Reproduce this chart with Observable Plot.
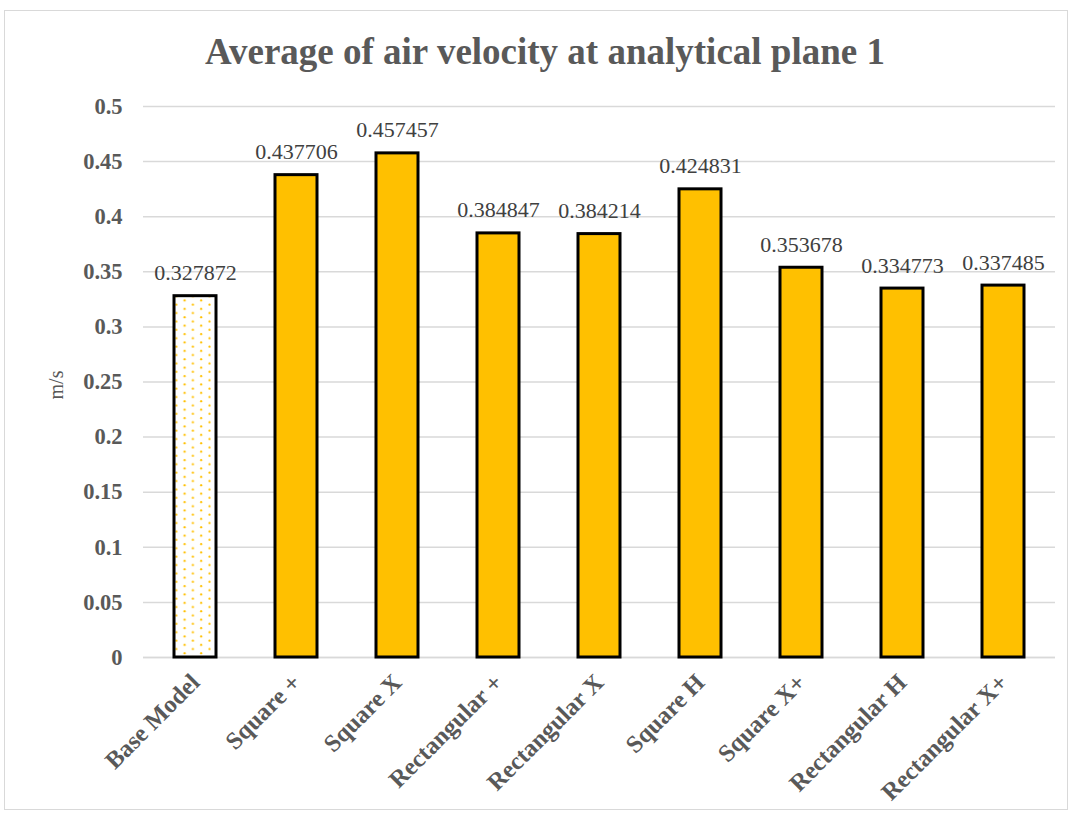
<!DOCTYPE html>
<html><head><meta charset="utf-8">
<script src="https://cdn.jsdelivr.net/npm/d3@7"></script>
<script src="https://cdn.jsdelivr.net/npm/@observablehq/plot@0.6"></script>
<style>
body{margin:0;background:#fff;width:1073px;height:816px;position:relative;overflow:hidden;font-family:"Liberation Serif",serif;}
#frame{position:absolute;left:4px;top:10px;width:1064px;height:800px;border:1px solid #d9d9d9;box-sizing:border-box;}
#title{position:absolute;left:0;top:33px;width:1090px;text-align:center;font:bold 37px/1 "Liberation Serif",serif;color:#595959;white-space:nowrap;}
#chart{position:absolute;left:0;top:80px;}
</style></head><body>
<div id="frame"></div>
<div id="title">Average of air velocity at analytical plane 1</div>
<div id="chart"></div>
<script>
const categories = ["Base Model","Square +","Square X","Rectangular +","Rectangular X","Square H","Square X+","Rectangular H","Rectangular X+"];
const values = [0.327872,0.437706,0.457457,0.384847,0.384214,0.424831,0.353678,0.334773,0.337485];
const yTicks = [0,0.05,0.1,0.15,0.2,0.25,0.3,0.35,0.4,0.45,0.5];
const yTickLabels = ["0","0.05","0.1","0.15","0.2","0.25","0.3","0.35","0.4","0.45","0.5"];
const yLabel = "m/s";
const data = categories.map((c,i)=>({cat:c, v:values[i], base:i===0}));

const plot = Plot.plot({
  width:1073, height:730,
  marginTop:26, marginBottom:153, marginLeft:143, marginRight:18,
  style:{fontFamily:"'Liberation Serif', serif", background:"transparent"},
  x:{domain:categories, paddingInner:0.585, paddingOuter:0.2925, label:null},
  y:{domain:[0,0.5], label:null},
  marks:[
    Plot.gridY(yTicks,{stroke:"#d9d9d9", strokeOpacity:1, strokeWidth:1.5}),
    Plot.ruleY([0],{stroke:"#d9d9d9", strokeWidth:1.5}),
    Plot.barY(data,{x:"cat", y:"v", fill:d=>d.base?"url(#dots)":"#FFC000", stroke:"#000", strokeWidth:3}),
    Plot.text(data,{x:"cat", y:"v", text:d=>String(d.v), lineAnchor:"bottom", dy:-16, fontSize:22, fill:"#404040"}),
    Plot.axisY({ticks:yTicks, tickFormat:d=>yTickLabels[yTicks.indexOf(d)], tickSize:0, tickPadding:21, fontSize:22.5, fontWeight:"bold", fill:"#595959", label:null}),
    Plot.axisX({tickSize:0, tickPadding:21, tickRotate:-45, fontSize:24.5, fontWeight:"bold", fill:"#595959", label:null})
  ]
});
const ns="http://www.w3.org/2000/svg";
const defs=document.createElementNS(ns,"defs");
defs.innerHTML='<pattern id="dots" patternUnits="userSpaceOnUse" width="16.6" height="8.4"><rect width="16.6" height="8.4" fill="#fff"/><circle cx="2" cy="2" r="1.1" fill="#FFC000"/><circle cx="10.3" cy="6.2" r="1.1" fill="#FFC000"/></pattern>';
plot.insertBefore(defs, plot.firstChild);
document.getElementById("chart").appendChild(plot);
const lab=document.createElementNS(ns,"text");
lab.setAttribute("transform","translate(63,305) rotate(-90)");
lab.setAttribute("text-anchor","middle");
lab.setAttribute("font-size","20");
lab.setAttribute("fill","#595959");
lab.setAttribute("font-family","'Liberation Serif', serif");
lab.textContent=yLabel;
plot.appendChild(lab);
</script>
</body></html>
